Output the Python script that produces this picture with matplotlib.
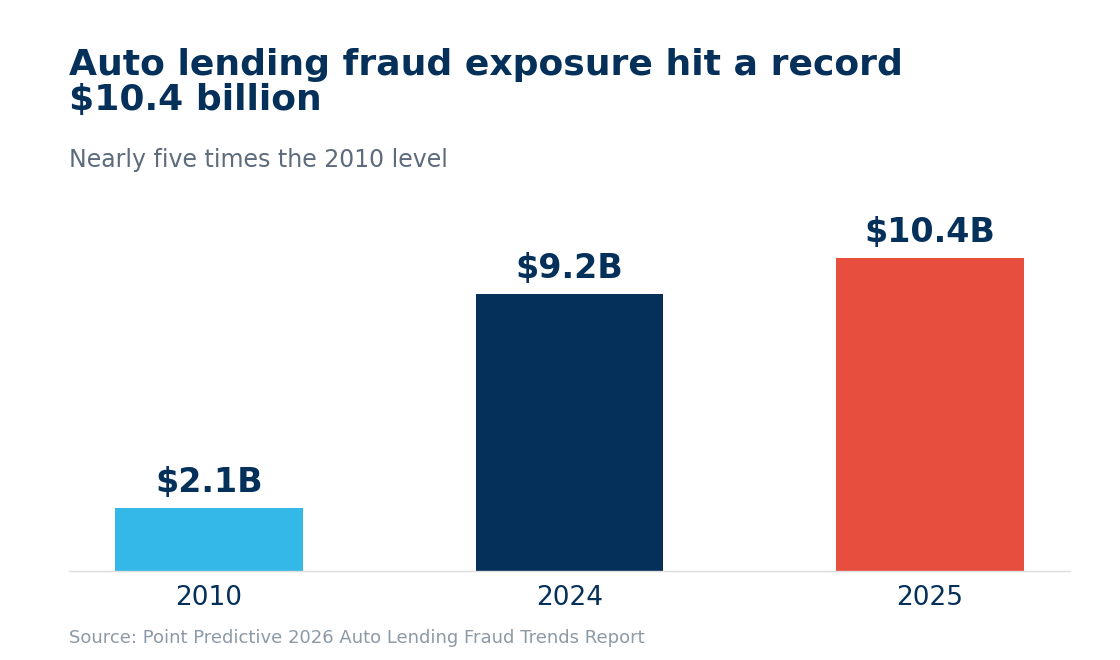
import matplotlib
matplotlib.use("Agg")
import matplotlib.pyplot as plt

years = ["2010", "2024", "2025"]
values = [2.1, 9.2, 10.4]
labels = ["$2.1B", "$9.2B", "$10.4B"]
colors = ["#33B8E8", "#04305A", "#E84E3E"]

navy = "#04305A"
fig = plt.figure(figsize=(11.2, 6.6), dpi=100)
ax = fig.add_axes([69/1120, 1-571/660, 1001/1120, 361/660])
x = range(len(years))
ax.bar(x, values, width=0.52, color=colors)
for xi, v, l in zip(x, values, labels):
    ax.text(xi, v + 0.3, l, ha="center", va="bottom", fontsize=24, fontweight="bold", color=navy)
ax.set_xlim(-0.388, 2.388)
ax.set_ylim(0, 12)
ax.set_xticks(list(x))
ax.set_xticklabels(years, fontsize=19, color=navy)
ax.tick_params(axis="x", length=0, pad=10)
ax.set_yticks([])
for s in ["top", "right", "left"]:
    ax.spines[s].set_visible(False)
ax.spines["bottom"].set_color("#DDDDDD")
ax.spines["bottom"].set_linewidth(1)

fig.text(69/1120, 1-48/660, "Auto lending fraud exposure hit a record\n$10.4 billion",
         ha="left", va="top", fontsize=26, fontweight="bold", color=navy, linespacing=1.05)
fig.text(69/1120, 1-160/660, "Nearly five times the 2010 level", ha="left", va="center",
         fontsize=17, color="#5D6B7D")
fig.text(69/1120, 1-638/660, "Source: Point Predictive 2026 Auto Lending Fraud Trends Report",
         ha="left", va="center", fontsize=13, color="#8C99A8")
fig.savefig("out.png", dpi=100)
